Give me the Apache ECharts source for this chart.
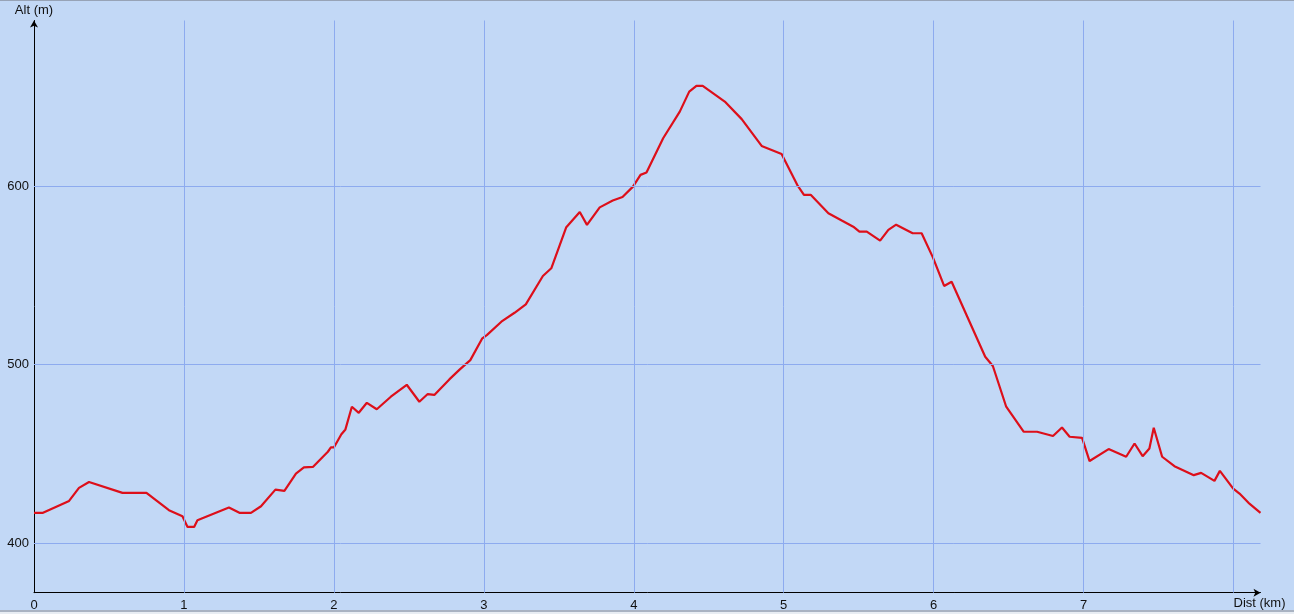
<!DOCTYPE html>
<html>
<head>
<meta charset="utf-8">
<script src="https://cdn.jsdelivr.net/npm/echarts@6/dist/echarts.min.js"></script>
<style>
html,body{margin:0;padding:0;background:#ffffff;}
#wrap{position:relative;width:1294px;height:614px;overflow:hidden;background:#C2D8F6;}
#chart{position:absolute;left:0;top:0;width:1294px;height:614px;}
#topline{position:absolute;left:0;top:0;width:1294px;height:1px;background:#97A3B6;}
#botline{position:absolute;left:0;top:610px;width:1294px;height:2px;background:#A9B3C2;}
#botwhite{position:absolute;left:0;top:612px;width:1294px;height:2px;background:#E8EDF3;}
</style>
</head>
<body>
<div id="wrap">
<div id="chart"></div>
<div id="topline"></div>
<div id="botline"></div>
<div id="botwhite"></div>
</div>
<script>
// distance (km)
var distKm = [0, 0.06, 0.234, 0.30, 0.367, 0.59, 0.75, 0.90, 0.99, 1.024, 1.068, 1.09, 1.30, 1.37, 1.447, 1.514,
  1.61, 1.67, 1.747, 1.80, 1.86, 1.96, 1.98, 2.00, 2.05, 2.077, 2.12, 2.166, 2.22, 2.286, 2.38, 2.486, 2.57, 2.626,
  2.67, 2.77, 2.84, 2.91, 2.99, 3.02, 3.117, 3.205, 3.28, 3.394, 3.45, 3.55, 3.64, 3.688, 3.773, 3.86, 3.925,
  3.995, 4.045, 4.085, 4.196, 4.307, 4.37, 4.418, 4.46, 4.607, 4.72, 4.853, 4.986, 5.09, 5.135, 5.18, 5.298,
  5.387, 5.464, 5.505, 5.554, 5.643, 5.698, 5.75, 5.86, 5.92, 5.995, 6.07, 6.12, 6.344, 6.395, 6.484, 6.60, 6.69,
  6.796, 6.856, 6.907, 6.99, 7.04, 7.167, 7.284, 7.34, 7.394, 7.439, 7.468, 7.524, 7.606, 7.735, 7.784, 7.873,
  7.909, 7.998, 8.04, 8.10, 8.18];
// altitude (m)
var altM = [417, 417, 423.7, 431, 434.3, 428.2, 428.2, 418.5, 415.1, 409.1, 409.1, 412.9, 420, 417, 417, 420.7,
  430, 429.3, 439, 442.4, 442.7, 451.2, 453.6, 453.6, 461, 463.7, 476.4, 473, 478.6, 475, 482, 488.7, 479.2, 483.5,
  483, 491.7, 497.3, 502.5, 514.7, 516.5, 524, 529, 533.7, 549.6, 553.9, 576.9, 585.4, 578.2, 588, 591.8, 593.8,
  599.6, 606.2, 607.5, 626.7, 641.6, 652.8, 656, 656, 647.2, 637.4, 622.4, 617.9, 600.6, 595, 595, 584.7,
  580.6, 577.2, 574.4, 574.4, 569.4, 575.4, 578.3, 573.5, 573.5, 560, 544, 546.4, 504.4, 499.2, 476.4, 462.4, 462.4,
  460, 464.8, 459.6, 459, 446, 452.7, 448.4, 455.8, 448.7, 453, 464.6, 448.4, 443.1, 438.1, 439.4, 434.9,
  440.5, 430.6, 427.8, 422.6, 417];
var yTicks = [400, 500, 600];
var xTicks = [1, 2, 3, 4, 5, 6, 7, 8];
var xTickLabels = ['0', '1', '2', '3', '4', '5', '6', '7', ''];

var pts = distKm.map(function (d, i) { return [d, altM[i]]; });
var fontFam = '"Liberation Sans", Arial, sans-serif';
var gridColor = '#8DABEF';

var gridLines = yTicks.map(function (v) { return { yAxis: v }; })
  .concat(xTicks.map(function (v) { return { xAxis: v }; }));

var chart = echarts.init(document.getElementById('chart'), null, { renderer: 'canvas' });
chart.setOption({
  animation: false,
  backgroundColor: 'transparent',
  grid: { left: 34, right: 33.5, top: 20.5, bottom: 21.3, containLabel: false },
  xAxis: {
    type: 'value',
    min: 0, max: 8.18, interval: 1,
    name: 'Dist (km)',
    nameLocation: 'end',
    nameGap: 25,
    nameTextStyle: { color: '#111', fontFamily: fontFam, fontSize: 13, align: 'right', verticalAlign: 'top', padding: [4, 0, 0, 0] },
    axisLine: { show: true, symbol: ['none', 'arrow'], symbolSize: [6, 7], lineStyle: { color: '#000', width: 1 } },
    axisTick: { show: false },
    axisLabel: {
      color: '#111', fontFamily: fontFam, fontSize: 13, margin: 6,
      showMaxLabel: false,
      formatter: function (v) { var i = Math.round(v); return (i >= 0 && i < xTickLabels.length) ? xTickLabels[i] : ''; }
    },
    splitLine: { show: false }
  },
  yAxis: {
    type: 'value',
    min: 372.3, max: 692.6,
    name: 'Alt (m)',
    nameLocation: 'end',
    nameGap: 4,
    nameTextStyle: { color: '#111', fontFamily: fontFam, fontSize: 13, align: 'center' },
    axisLine: { show: true, symbol: ['none', 'arrow'], symbolSize: [6, 7], lineStyle: { color: '#000', width: 1 } },
    axisTick: { show: false, customValues: yTicks },
    axisLabel: { color: '#111', fontFamily: fontFam, fontSize: 13, margin: 5, customValues: yTicks },
    splitLine: { show: false }
  },
  series: [
    {
      type: 'line',
      data: [],
      z: 1,
      silent: true,
      markLine: {
        silent: true,
        symbol: ['none', 'none'],
        label: { show: false },
        lineStyle: { color: gridColor, width: 1, type: 'solid' },
        emphasis: { disabled: true },
        animation: false,
        data: gridLines
      }
    },
    {
      type: 'line',
      data: pts,
      z: 3,
      showSymbol: false,
      symbol: 'none',
      smooth: false,
      lineStyle: { color: '#DD0F1A', width: 2.2 },
      silent: true
    }
  ]
});
</script>
</body>
</html>
